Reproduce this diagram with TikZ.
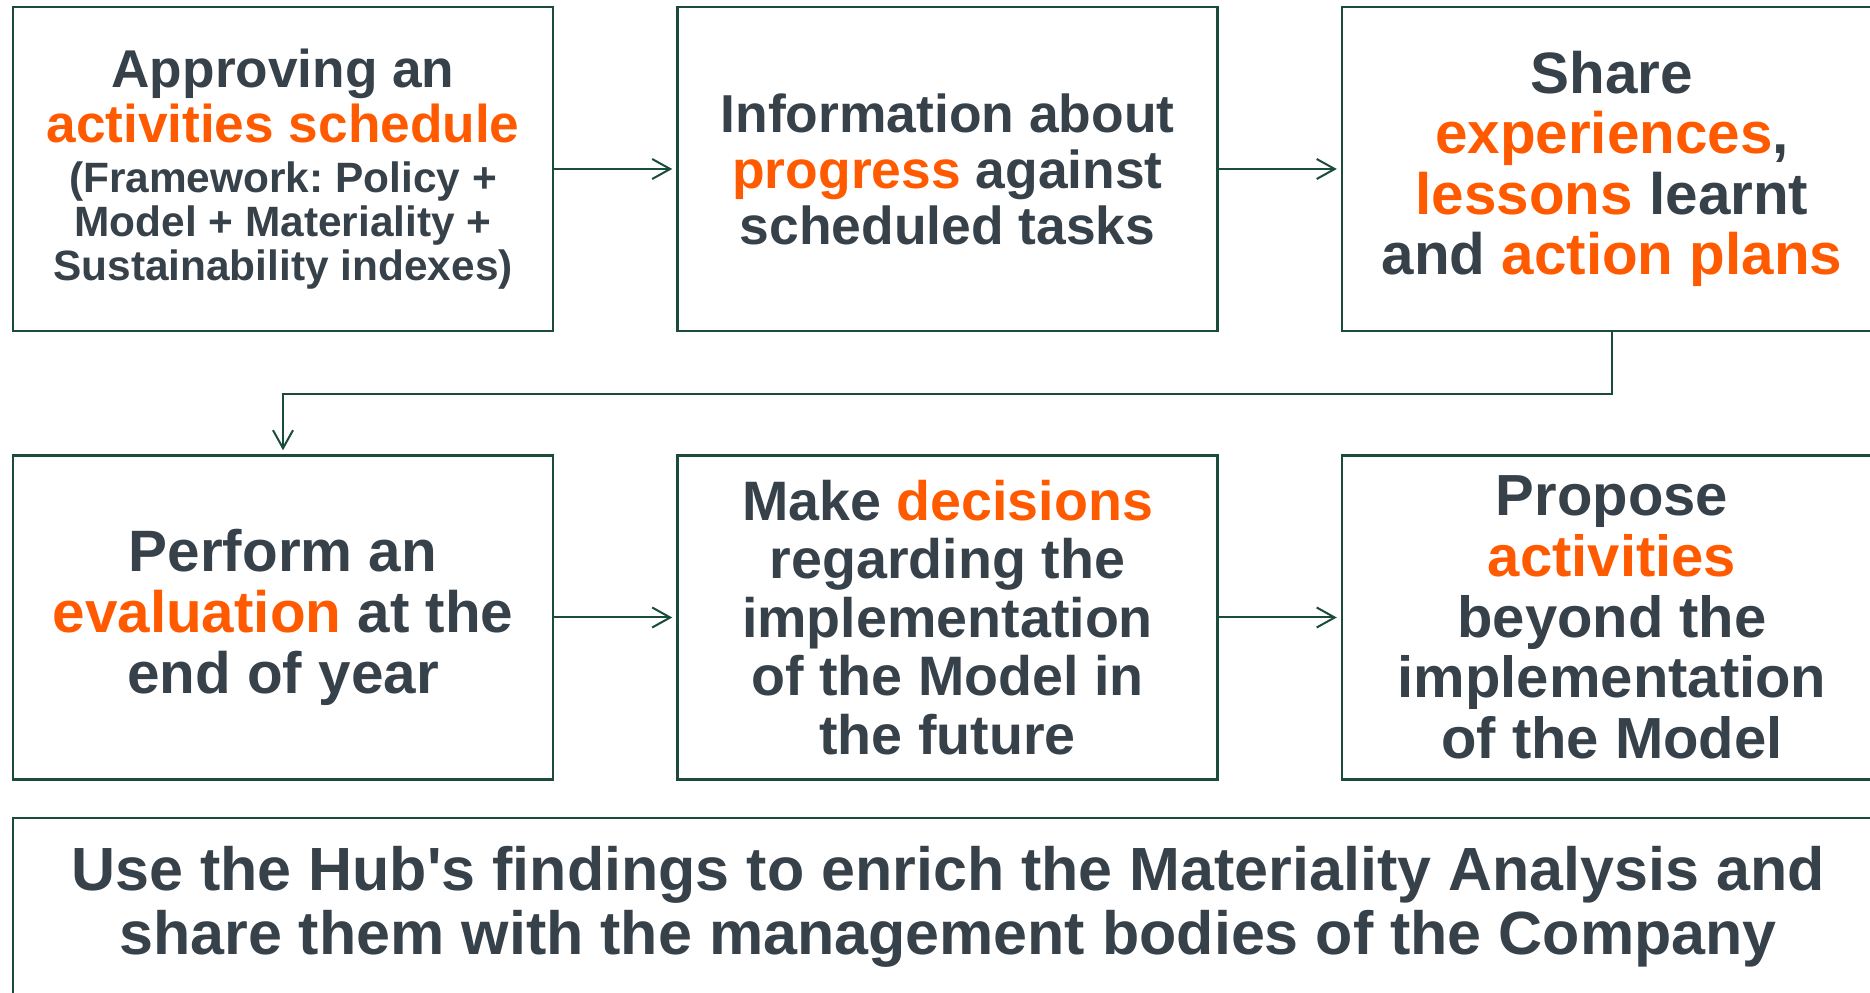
\documentclass[tikz,border=0pt]{standalone}
\usepackage{fontspec}
\setmainfont{Liberation Sans}[Ligatures=TeXOff]
\usetikzlibrary{positioning,arrows.meta}
\definecolor{inkgray}{HTML}{37414A}
\definecolor{hotorange}{HTML}{FF5A00}
\definecolor{linegreen}{HTML}{1B4B39}
\newcommand{\hot}[1]{\textcolor{hotorange}{#1}}
\frenchspacing
\begin{document}
\begin{tikzpicture}[node distance=61pt,
    box/.style={draw=linegreen, line width=1.25pt, minimum width=270pt, minimum height=162pt, align=center, text=inkgray, inner sep=2pt},
    flow/.style={draw=linegreen, line width=1pt, -{Straight Barb[length=9pt,width=10pt]}, shorten >=2pt}]
    \useasboundingbox (0,0) rectangle (935pt,496pt);
    \node[box, font=\fontsize{26.6}{27.5}\selectfont\bfseries] (b1) at (141.5pt,411.5pt) {Approving an\\ \hot{activities schedule}\\[-2.5pt]
        \fontsize{21.2}{22}\selectfont (Framework: Policy +\\[-5.5pt] \fontsize{21.2}{22}\selectfont Model + Materiality +\\[-5.5pt] \fontsize{21.2}{22}\selectfont Sustainability indexes)};
    \node[box, font=\fontsize{26.7}{28}\selectfont\bfseries] (b2) [right=of b1] {Information about\\ \hot{progress} against\\ scheduled tasks};
    \node[box, font=\fontsize{29.2}{30.3}\selectfont\bfseries] (b3) [right=of b2] {Share\\ \hot{experiences},\\ \hot{lessons} learnt\\ and \hot{action plans}};
    \node[box, font=\fontsize{29.2}{30.3}\selectfont\bfseries] (b4) [below=of b1] {Perform an\\ \hot{evaluation} at the\\ end of year};
    \node[box, font=\fontsize{27.8}{29.2}\selectfont\bfseries] (b5) [right=of b4] {Make \hot{decisions}\\ regarding the\\ implementation\\ of the Model in\\ the future};
    \node[box, font=\fontsize{29}{30.3}\selectfont\bfseries] (b6) [right=of b5] {Propose\\ \hot{activities}\\ beyond the\\ implementation\\ of the Model};
    \node[box, font=\fontsize{30.5}{32.3}\selectfont\bfseries, minimum width=935pt, minimum height=89pt] (hub) [below right=18pt and 0pt of b4.south west] {Use the Hub's findings to enrich the Materiality Analysis and\\ share them with the management bodies of the Company};
    \draw[flow] (b1) -- (b2);
    \draw[flow] (b2) -- (b3);
    \draw[flow] (b3.south) -- ++(0,-31pt) -| (b4.north);
    \draw[flow] (b4) -- (b5);
    \draw[flow] (b5) -- (b6);
\end{tikzpicture}
\end{document}
